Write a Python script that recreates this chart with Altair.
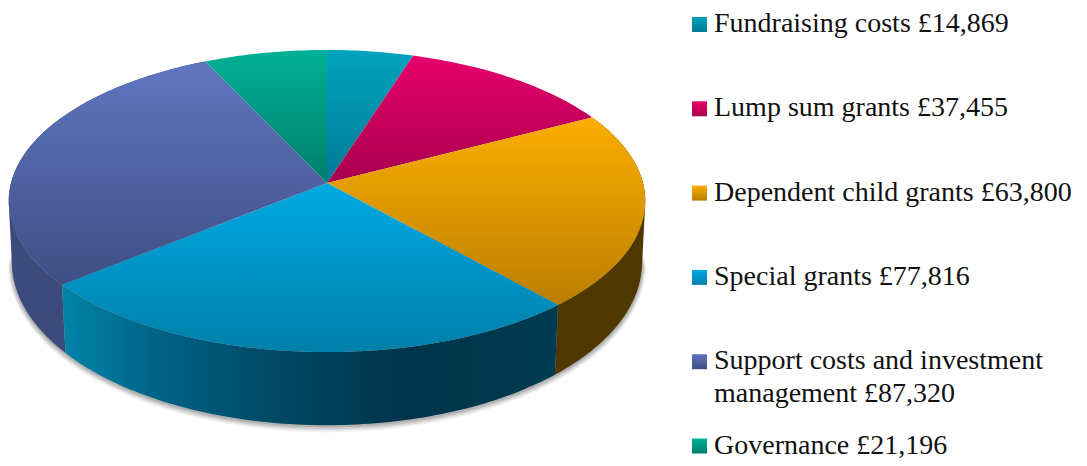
import math
import altair as alt

# ---- chart values ----
categories = ["Fundraising costs", "Lump sum grants", "Dependent child grants",
              "Special grants", "Support costs and investment management", "Governance"]
values = [14869, 37455, 63800, 77816, 87320, 21196]
label_lines = [["Fundraising costs £14,869"],
               ["Lump sum grants £37,455"],
               ["Dependent child grants £63,800"],
               ["Special grants £77,816"],
               ["Support costs and investment", "management £87,320"],
               ["Governance £21,196"]]
top_colours = [("#00a3be", "#007a95"), ("#e6006b", "#a8004e"), ("#fbae00", "#bb7e00"),
               ("#00a9e2", "#0080aa"), ("#6076c0", "#3e4e84"), ("#00b197", "#007d6c")]

# ---- look of the tilted pie ----
TOP = dict(cx=327, cy=183, rx=316, ay=148.9, k=0.1192)
BOTTOM = dict(cx=327, cy=243.5, rx=313, ay=161, k=0.114)
W, H = 1071, 450


def project(plane, deg, grow=0.0, drop=0.0):
    u, v = math.sin(math.radians(deg)), math.cos(math.radians(deg))
    d = 1 + plane["k"] * v
    return [plane["cx"] + (plane["rx"] + grow) * u / d,
            plane["cy"] + drop - (plane["ay"] + grow) * v / d]


def sweep(a, b):
    n = max(2, int(abs(b - a)) + 1)
    return [a + (b - a) * i / n for i in range(n + 1)]


def feature(ring):
    ring = ring + [ring[0]]
    return {"type": "Feature", "properties": {}, "geometry": {"type": "Polygon", "coordinates": [ring]}}


def top_face(a, b):
    return feature([[TOP["cx"], TOP["cy"]]] + [project(TOP, t) for t in sweep(a, b)])


def area2(q):
    return sum(q[i][0] * q[(i + 1) % 4][1] - q[(i + 1) % 4][0] * q[i][1] for i in range(4))


def wall(a, b):
    # a ruled band of small quads, all wound the same way, so the rim silhouette stays tangent
    ts = sweep(a, b)
    quads = []
    for t0, t1 in zip(ts[:-1], ts[1:]):
        q = [project(TOP, t0), project(TOP, t1), project(BOTTOM, t1), project(BOTTOM, t0)]
        if area2(q) < 0:
            q.reverse()
        quads.append([q + [q[0]]])
    return {"type": "Feature", "properties": {}, "geometry": {"type": "MultiPolygon", "coordinates": quads}}


def vgrad(c1, c2):
    return alt.Gradient(gradient="linear", x1=0, y1=0, x2=0, y2=1,
                        stops=[alt.GradientStop(color=c1, offset=0), alt.GradientStop(color=c2, offset=1)])


def shape(feat, **mark):
    data = alt.InlineData(values=[feat], format=alt.JsonDataFormat(type="json"))
    return alt.Chart(data).mark_geoshape(strokeWidth=0, **mark).project(
        type="identity", scale=1, translate=[-8, -8])


total = sum(values)
edges = [0.0]
for val in values:
    edges.append(edges[-1] + 360 * val / total)

layers = []

# soft contact shadow, only below the lower rim
for grow, drop, op in [(4, 2.5, 0.08), (3, 2, 0.12), (2, 1.5, 0.16), (1, 1, 0.2)]:
    ring = [project(BOTTOM, t, grow, drop) for t in range(97, 264, 2)] + \
           [project(BOTTOM, 275), project(BOTTOM, 85)]
    layers.append(shape(feature(ring), fill="#555555", opacity=op))

# side walls
wall_stops = [("#0084a8", 0), ("#005f82", 0.22), ("#004a66", 0.42), ("#00344a", 0.7), ("#003b52", 1)]
layers.append(shape(wall(edges[2], edges[3]), fill="#4f3800"))
layers.append(shape(wall(edges[4], edges[5]), fill="#3c4b7c"))
layers.append(shape(wall(edges[3], edges[4]),
                    fill=alt.Gradient(gradient="linear", x1=0, y1=0, x2=1, y2=0,
                                      stops=[alt.GradientStop(color=c, offset=o) for c, o in wall_stops])))

# top faces
for i, (c1, c2) in enumerate(top_colours):
    layers.append(shape(top_face(edges[i], edges[i + 1]), fill=vgrad(c1, c2)))

# legend
row_y = alt.Y("row:Q", scale=alt.Scale(domain=[0, 5], range=[16.5, 438]), axis=None)
for i, (c1, c2) in enumerate(top_colours):
    d = alt.InlineData(values=[{"row": i, "cat": categories[i], "label": label_lines[i]}])
    layers.append(alt.Chart(d).mark_square(size=225, fill=vgrad(c1, c2), opacity=1, strokeWidth=0)
                  .encode(x=alt.value(691.5), y=row_y))
    layers.append(alt.Chart(d).mark_text(align="left", baseline="alphabetic", dy=7.5,
                                         font="Liberation Serif", fontSize=28, lineHeight=33, color="#111111")
                  .encode(x=alt.value(706), y=row_y, text=alt.Text("label:N")))

chart = alt.layer(*layers).properties(
    width=W, height=H, padding=0,
    autosize=alt.AutoSizeParams(type="none"),
).configure_view(stroke=None)

chart.save("out.html", embed_options={"renderer": "svg", "actions": False})
